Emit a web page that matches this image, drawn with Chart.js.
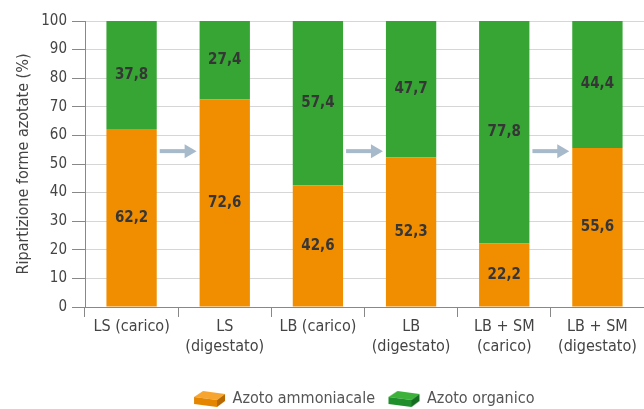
<!DOCTYPE html>
<html>
<head>
<meta charset="utf-8">
<script src="https://cdn.jsdelivr.net/npm/chart.js@4"></script>
<style>
  body { margin: 0; background: #fff; }
  #wrap { width: 644px; height: 409px; }
</style>
</head>
<body>
<div id="wrap"><canvas id="azotoChart" width="644" height="409"></canvas></div>
<script>
// dati
var categorie = [
    'LS (carico)',
    ['LS', '(digestato)'],
    'LB (carico)',
    ['LB', '(digestato)'],
    ['LB + SM', '(carico)'],
    ['LB + SM', '(digestato)']
];
var azotoAmmoniacale = [62.2, 72.6, 42.6, 52.3, 22.2, 55.6];
var azotoOrganico = [37.8, 27.4, 57.4, 47.7, 77.8, 44.4];
var frecce = [[0, 1], [2, 3], [4, 5]]; // carico -> digestato
var livelloFreccia = 54.5;

var FONT = "'Liberation Sans Narrow', 'DejaVu Sans Condensed', 'Liberation Sans', sans-serif";

// piccolo "mattoncino" 3D per la legenda
function mattone(chiaro, medio, scuro) {
    var c = document.createElement('canvas');
    c.width = 33; c.height = 18;
    var g = c.getContext('2d');
    // faccia superiore
    g.fillStyle = chiaro;
    g.beginPath();
    g.moveTo(1, 7); g.lineTo(10, 1); g.lineTo(32, 4); g.lineTo(24, 10); g.closePath();
    g.fill();
    // faccia frontale
    g.fillStyle = medio;
    g.beginPath();
    g.moveTo(1, 7); g.lineTo(24, 10); g.lineTo(24, 17); g.lineTo(1, 14); g.closePath();
    g.fill();
    // lato
    g.fillStyle = scuro;
    g.beginPath();
    g.moveTo(24, 10); g.lineTo(32, 4); g.lineTo(32, 11); g.lineTo(24, 17); g.closePath();
    g.fill();
    return c;
}
var iconaArancio = mattone('#f7a531', '#e48600', '#b86a00');
var iconaVerde = mattone('#3cb23a', '#1f8f2c', '#146e1f');

// etichette dei valori dentro le barre (con la virgola)
var valoriPlugin = {
    id: 'valori',
    afterDatasetsDraw: function (chart) {
        var ctx = chart.ctx;
        ctx.save();
        ctx.font = 'bold 15px ' + FONT;
        ctx.fillStyle = '#363636';
        ctx.textAlign = 'center';
        ctx.textBaseline = 'middle';
        chart.data.datasets.forEach(function (ds, i) {
            chart.getDatasetMeta(i).data.forEach(function (bar, j) {
                var y = (bar.y + bar.base) / 2;
                ctx.fillText(ds.data[j].toFixed(1).replace('.', ','), bar.x, y);
            });
        });
        ctx.restore();
    }
};

// frecce grigio-azzurre tra le barre
var freccePlugin = {
    id: 'frecce',
    afterDatasetsDraw: function (chart) {
        var ctx = chart.ctx;
        var ys = chart.scales.y;
        var meta = chart.getDatasetMeta(0);
        ctx.save();
        ctx.fillStyle = '#a7bacb';
        frecce.forEach(function (f) {
            var b0 = meta.data[f[0]], b1 = meta.data[f[1]];
            var x0 = b0.x + b0.width / 2 + 3;
            var x1 = b1.x - b1.width / 2 - 3;
            var y = ys.getPixelForValue(livelloFreccia);
            ctx.fillRect(x0, y - 2, x1 - x0 - 10, 4);
            ctx.beginPath();
            ctx.moveTo(x1, y);
            ctx.lineTo(x1 - 12, y - 7);
            ctx.lineTo(x1 - 12, y + 7);
            ctx.closePath();
            ctx.fill();
        });
        ctx.restore();
    }
};

new Chart(document.getElementById('azotoChart').getContext('2d'), {
    type: 'bar',
    data: {
        labels: categorie,
        datasets: [{
            label: 'Azoto ammoniacale',
            data: azotoAmmoniacale,
            backgroundColor: '#f18e00',
            pointStyle: iconaArancio,
            categoryPercentage: 1.0,
            barPercentage: 0.54
        }, {
            label: 'Azoto organico',
            data: azotoOrganico,
            backgroundColor: '#36a534',
            pointStyle: iconaVerde,
            categoryPercentage: 1.0,
            barPercentage: 0.54
        }]
    },
    options: {
        responsive: false,
        animation: false,
        layout: { padding: { top: 21, right: 0, left: 10, bottom: -8 } },
        plugins: {
            legend: {
                position: 'bottom',
                fullSize: false,
                labels: {
                    font: { family: FONT, size: 16 },
                    color: '#555',
                    usePointStyle: true,
                    pointStyleWidth: 30,
                    boxHeight: 16,
                    padding: 14
                }
            },
            tooltip: { enabled: false }
        },
        scales: {
            x: {
                stacked: true,
                afterFit: function (scale) { scale.height = 70; },
                grid: {
                    offset: true,
                    drawOnChartArea: false,
                    color: '#888',
                    tickLength: 10
                },
                border: { color: '#888' },
                ticks: {
                    font: { family: FONT, size: 16, lineHeight: 1.25 },
                    color: '#444',
                    maxRotation: 0,
                    autoSkip: false,
                    padding: 0
                }
            },
            y: {
                stacked: true,
                min: 0,
                max: 100,
                afterFit: function (scale) { scale.width = 75; },
                ticks: {
                    stepSize: 10,
                    font: { family: FONT, size: 15 },
                    color: '#444',
                    padding: 5
                },
                grid: {
                    color: '#d6d6d6',
                    tickColor: '#888',
                    tickLength: 13
                },
                border: { color: '#888' },
                title: {
                    display: true,
                    text: 'Ripartizione forme azotate (%)',
                    font: { family: FONT, size: 16 },
                    color: '#444',
                    padding: 4
                }
            }
        }
    },
    plugins: [valoriPlugin, freccePlugin]
});
</script>
</body>
</html>
